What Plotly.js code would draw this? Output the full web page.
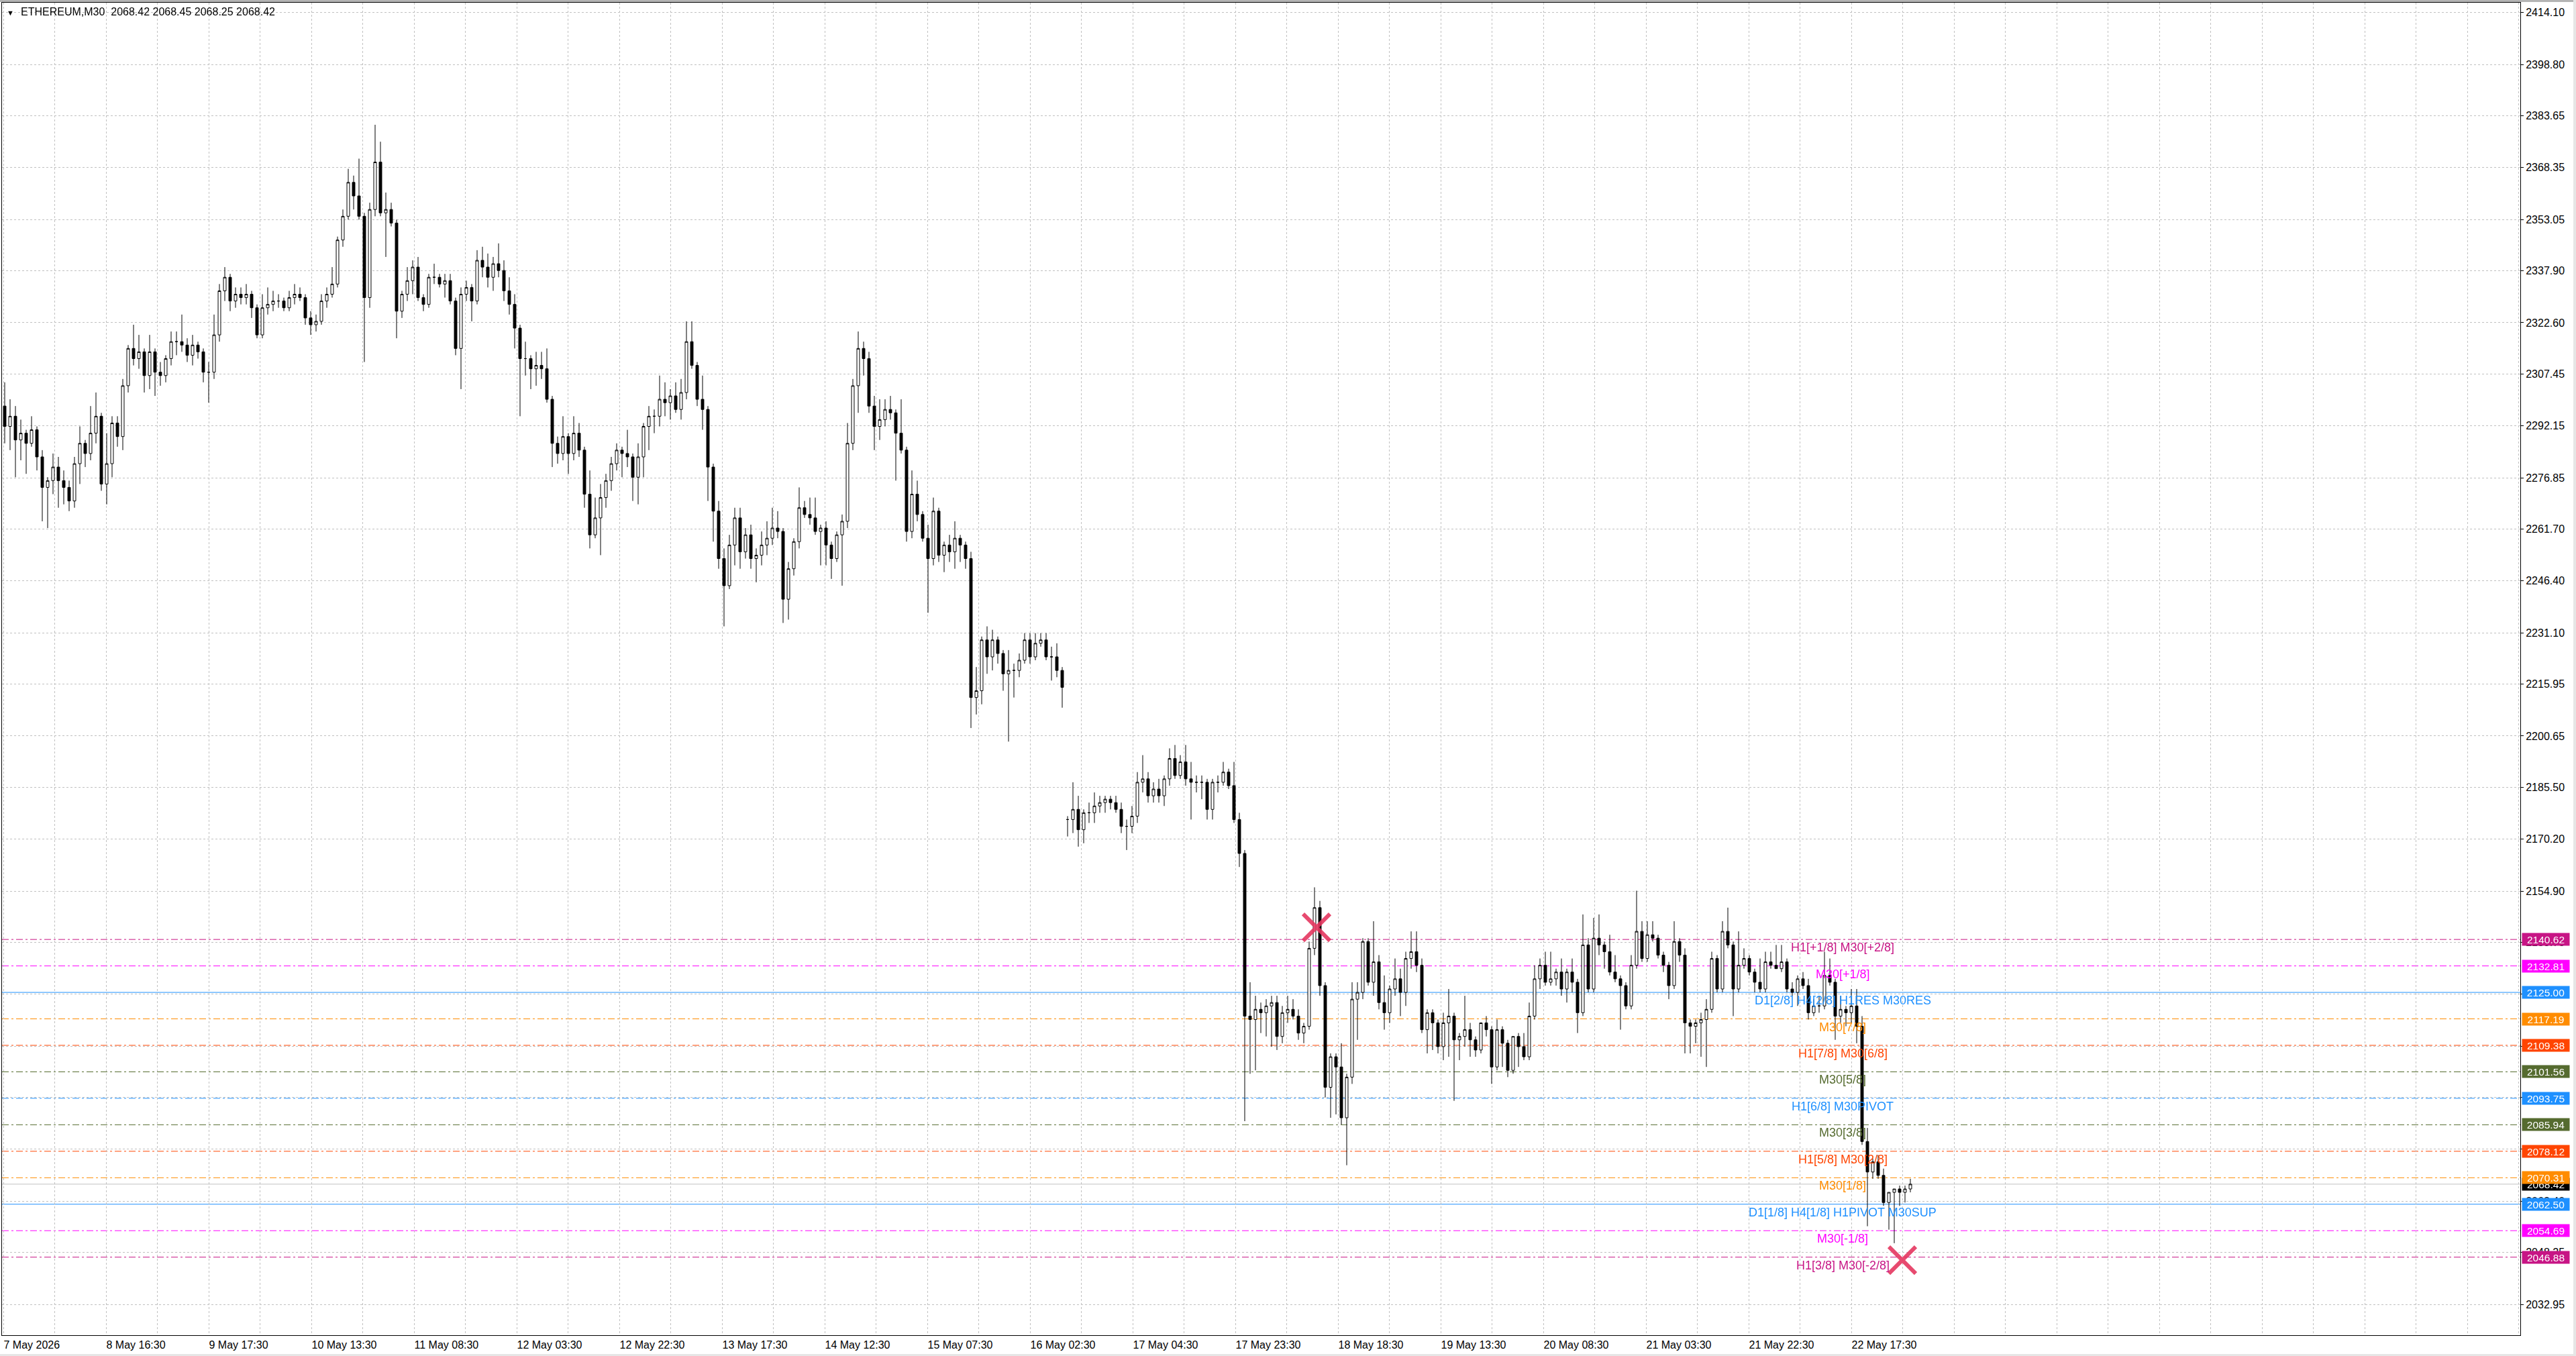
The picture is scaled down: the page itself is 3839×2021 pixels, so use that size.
<!DOCTYPE html>
<html>
<head>
<meta charset="utf-8">
<script src="https://cdn.plot.ly/plotly-3.0.1.min.js"></script>
<style>
html,body{margin:0;padding:0;background:#fff;overflow:hidden;}
#chart{width:3839px;height:2021px;}
.strip{position:fixed;background:#b4b4b4;z-index:5;}
</style>
</head>
<body>
<div id="chart"></div>
<div class="strip" style="left:0;top:0;width:3839px;height:3px;"></div>
<div class="strip" style="left:0;top:2018px;width:3839px;height:3px;background:#e6e6e6;"></div>
<div class="strip" style="left:3835px;top:0;width:4px;height:2021px;background:#e6e6e6;"></div>
<script>
// ETHEREUM, hourly aggregation of the M30 chart (open / high / low / close)
const OPEN = [
2298,2292,2295,2288,2290,2287,2291,2283,2274,2276,2280,2276,2274,2270,2281,2287,2284,2290,2295,2275,
2281,2293,2289,2304,2315,2312,2314,2307,2314,2308,2307,2312,2317,2317,2316,2313,2316,2314,2308,2308,
2319,2332,2336,2329,2331,2330,2331,2327,2319,2327,2328,2329,2329,2327,2330,2331,2330,2324,2322,2323,
2329,2331,2334,2347,2354,2364,2360,2354,2330,2356,2370,2355,2356,2352,2326,2331,2335,2339,2330,2328,
2336,2336,2334,2335,2329,2315,2331,2333,2329,2341,2339,2336,2340,2338,2332,2328,2321,2312,2312,2309,
2310,2309,2300,2287,2284,2289,2284,2290,2285,2272,2260,2265,2271,2276,2281,2285,2284,2283,2277,2283,
2292,2295,2295,2300,2299,2301,2297,2302,2317,2310,2300,2297,2280,2267,2253,2245,2257,2265,2255,2260,
2253,2254,2257,2259,2262,2261,2241,2250,2258,2268,2266,2265,2261,2262,2257,2253,2260,2264,2287,2304,
2315,2312,2298,2292,2294,2297,2296,2290,2285,2261,2272,2266,2259,2253,2267,2254,2257,2255,2259,2257,
2253,2212,2214,2229,2224,2229,2225,2219,2220,2220,2223,2229,2224,2228,2229,2224,2224,2220,2176,2176,
2179,2173,2178,2178,2180,2181,2182,2181,2179,2174,2174,2177,2187,2188,2183,2185,2183,2188,2194,2189,
2193,2188,2187,2187,2187,2179,2187,2187,2190,2186,2176,2166,2118,2117,2120,2119,2121,2122,2112,2119,
2120,2118,2113,2115,2138,2150,2127,2097,2106,2103,2088,2100,2123,2125,2140,2128,2134,2122,2119,2126,
2129,2125,2135,2137,2133,2114,2119,2116,2109,2116,2118,2111,2112,2114,2111,2108,2116,2114,2103,2114,
2110,2102,2112,2109,2106,2118,2129,2133,2128,2129,2131,2126,2131,2128,2119,2139,2126,2141,2139,2137,
2131,2129,2127,2121,2133,2143,2135,2142,2141,2136,2133,2127,2140,2136,2116,2115,2116,2117,2120,2135,
2126,2143,2139,2126,2133,2135,2131,2128,2126,2134,2133,2132,2134,2126,2125,2129,2127,2119,2121,2121,
2130,2128,2118,2120,2119,2121,2115,2081,2072,2075,2071,2063,2066,2067,2066,2067
];
const HIGH = [
2305,2300,2298,2294,2291,2295,2292,2285,2277,2284,2283,2279,2276,2283,2292,2288,2298,2302,2296,2290,
2295,2295,2306,2316,2322,2319,2315,2319,2315,2311,2313,2320,2320,2325,2318,2319,2317,2315,2311,2325,
2334,2339,2337,2333,2333,2334,2332,2328,2331,2333,2332,2331,2330,2332,2334,2333,2331,2326,2325,2331,
2333,2339,2348,2356,2368,2366,2371,2355,2358,2381,2376,2361,2358,2353,2332,2339,2341,2342,2331,2337,
2340,2337,2337,2337,2330,2333,2335,2334,2344,2345,2343,2342,2346,2341,2336,2331,2322,2317,2313,2314,
2314,2315,2301,2289,2295,2290,2295,2293,2286,2279,2271,2275,2278,2283,2287,2286,2291,2284,2287,2293,
2298,2297,2307,2305,2303,2305,2306,2323,2323,2311,2307,2298,2281,2270,2256,2260,2268,2268,2262,2263,
2256,2261,2264,2268,2267,2262,2252,2259,2274,2270,2271,2271,2263,2264,2258,2261,2266,2293,2306,2320,
2317,2314,2301,2300,2300,2301,2297,2300,2286,2279,2276,2267,2263,2271,2268,2258,2260,2264,2260,2258,
2255,2221,2230,2233,2232,2230,2226,2226,2222,2225,2231,2231,2231,2231,2231,2227,2228,2221,2177,2187,
2183,2179,2181,2184,2183,2183,2183,2183,2181,2176,2180,2190,2195,2190,2187,2188,2189,2197,2198,2195,
2198,2193,2189,2189,2188,2188,2189,2193,2191,2193,2178,2167,2128,2124,2122,2123,2124,2124,2121,2124,
2123,2120,2116,2140,2156,2152,2128,2107,2107,2110,2101,2128,2128,2141,2141,2146,2136,2130,2127,2135,
2132,2137,2143,2143,2135,2120,2120,2117,2119,2126,2119,2113,2124,2116,2112,2116,2118,2115,2117,2115,
2111,2112,2113,2113,2122,2133,2135,2137,2137,2132,2135,2132,2135,2129,2148,2141,2147,2148,2140,2142,
2136,2130,2128,2136,2155,2146,2146,2146,2142,2137,2134,2146,2141,2138,2117,2117,2119,2123,2137,2136,
2146,2150,2140,2143,2138,2136,2132,2135,2137,2137,2139,2139,2135,2128,2130,2131,2129,2123,2124,2137,
2135,2129,2124,2121,2126,2126,2118,2085,2076,2077,2073,2066,2067,2068,2068,2070
];
const LOW = [
2287,2285,2277,2282,2278,2286,2279,2264,2262,2272,2268,2269,2267,2268,2275,2280,2282,2287,2273,2269,
2277,2286,2285,2302,2310,2309,2302,2303,2301,2304,2305,2310,2313,2314,2311,2310,2312,2305,2299,2306,
2317,2329,2326,2327,2328,2328,2324,2318,2318,2325,2326,2327,2326,2326,2328,2329,2322,2319,2320,2322,
2327,2330,2333,2345,2353,2356,2353,2311,2327,2354,2354,2342,2351,2318,2324,2329,2331,2329,2326,2327,
2334,2333,2330,2328,2313,2303,2329,2323,2328,2336,2333,2332,2336,2329,2325,2315,2295,2307,2303,2304,
2306,2299,2280,2281,2282,2278,2282,2283,2268,2256,2259,2254,2268,2273,2279,2277,2280,2270,2269,2277,
2285,2290,2292,2295,2294,2296,2294,2300,2309,2298,2291,2270,2258,2250,2233,2244,2251,2250,2253,2250,
2246,2251,2254,2257,2259,2234,2235,2248,2256,2265,2263,2260,2251,2251,2247,2252,2245,2262,2285,2296,
2307,2296,2285,2288,2292,2294,2276,2284,2258,2259,2264,2258,2237,2251,2252,2249,2252,2250,2252,2250,
2203,2207,2210,2219,2220,2222,2214,2199,2212,2218,2222,2222,2223,2227,2223,2217,2218,2209,2171,2172,
2168,2169,2175,2175,2178,2178,2179,2178,2172,2167,2172,2175,2184,2181,2181,2181,2180,2186,2188,2188,
2186,2176,2184,2182,2176,2176,2184,2186,2185,2175,2162,2087,2101,2102,2113,2112,2109,2108,2110,2116,
2117,2111,2110,2114,2136,2124,2094,2088,2089,2086,2074,2098,2111,2123,2127,2124,2120,2114,2116,2124,
2118,2121,2132,2131,2113,2107,2108,2107,2105,2106,2093,2105,2109,2106,2106,2107,2112,2098,2102,2103,
2100,2101,2103,2105,2105,2117,2126,2127,2127,2127,2124,2122,2125,2113,2118,2125,2125,2136,2132,2130,
2128,2114,2120,2120,2132,2134,2134,2140,2135,2131,2123,2126,2134,2107,2107,2110,2106,2103,2119,2125,
2125,2138,2118,2125,2132,2130,2125,2125,2125,2132,2132,2131,2125,2124,2121,2126,2117,2118,2119,2120,
2127,2111,2116,2115,2116,2110,2080,2056,2070,2070,2062,2055,2051,2062,2063,2066
];
const CLOSE = [
2292,2295,2288,2290,2287,2291,2283,2274,2276,2280,2276,2274,2270,2281,2287,2284,2290,2295,2275,2281,
2293,2289,2304,2315,2312,2314,2307,2314,2308,2307,2312,2317,2317,2316,2313,2316,2314,2308,2308,2319,
2332,2336,2329,2331,2330,2331,2327,2319,2327,2328,2329,2329,2327,2330,2331,2330,2324,2322,2323,2329,
2331,2334,2347,2354,2364,2360,2354,2330,2356,2370,2355,2356,2352,2326,2331,2335,2339,2330,2328,2336,
2336,2334,2335,2329,2315,2331,2333,2329,2341,2339,2336,2340,2338,2332,2328,2321,2312,2312,2309,2310,
2309,2300,2287,2284,2289,2284,2290,2285,2272,2260,2265,2271,2276,2281,2285,2284,2283,2277,2283,2292,
2295,2295,2300,2299,2301,2297,2302,2317,2310,2300,2297,2280,2267,2253,2245,2257,2265,2255,2260,2253,
2254,2257,2259,2262,2261,2241,2250,2258,2268,2266,2265,2261,2262,2257,2253,2260,2264,2287,2304,2315,
2312,2298,2292,2294,2297,2296,2290,2285,2261,2272,2266,2259,2253,2267,2254,2257,2255,2259,2257,2253,
2212,2214,2229,2224,2229,2225,2219,2220,2220,2223,2229,2224,2228,2229,2224,2224,2220,2215,2176,2179,
2173,2178,2178,2180,2181,2182,2181,2179,2174,2174,2177,2187,2188,2183,2185,2183,2188,2194,2189,2193,
2188,2187,2187,2187,2179,2187,2187,2190,2186,2176,2166,2118,2117,2120,2119,2121,2122,2112,2119,2120,
2118,2113,2115,2138,2150,2127,2097,2106,2103,2088,2100,2123,2125,2140,2128,2134,2122,2119,2126,2129,
2125,2135,2137,2133,2114,2119,2116,2109,2116,2118,2111,2112,2114,2111,2108,2116,2114,2103,2114,2110,
2102,2112,2109,2106,2118,2129,2133,2128,2129,2131,2126,2131,2128,2119,2139,2126,2141,2139,2137,2131,
2129,2127,2121,2133,2143,2135,2142,2141,2136,2133,2127,2140,2136,2116,2115,2116,2117,2120,2135,2126,
2143,2139,2126,2133,2135,2131,2128,2126,2134,2133,2132,2134,2126,2125,2129,2127,2119,2121,2121,2130,
2128,2118,2120,2119,2121,2115,2081,2072,2075,2071,2063,2066,2067,2066,2067,2068.42
];

// x-axis time labels (every other vertical grid line)
const TIME_LABELS = ['7 May 2026','8 May 16:30','9 May 17:30','10 May 13:30','11 May 08:30','12 May 03:30',
  '12 May 22:30','13 May 17:30','14 May 12:30','15 May 07:30','16 May 02:30','17 May 04:30','17 May 23:30',
  '18 May 18:30','19 May 13:30','20 May 08:30','21 May 03:30','21 May 22:30','22 May 17:30'];

// y-axis price grid labels
const PRICE_TICKS = [2414.10,2398.80,2383.65,2368.35,2353.05,2337.90,2322.60,2307.45,2292.15,2276.85,
  2261.70,2246.40,2231.10,2215.95,2200.65,2185.50,2170.20,2154.90,2139.75,2124.45,2109.15,2094.00,
  2078.70,2063.40,2048.25,2032.95];

// Murrey-math style levels
const LEVEL_PRICES = [2140.62,2132.81,2125.00,2117.19,2109.38,2101.56,2093.75,2085.94,2078.12,2070.31,2062.50,2054.69,2046.88];
const LEVEL_NAMES = ['H1[+1/8] M30[+2/8]','M30[+1/8]','D1[2/8] H4[2/8] H1RES M30RES','M30[7/8]','H1[7/8] M30[6/8]',
  'M30[5/8]','H1[6/8] M30PIVOT','M30[3/8]','H1[5/8] M30[2/8]','M30[1/8]','D1[1/8] H4[1/8] H1PIVOT M30SUP','M30[-1/8]','H1[3/8] M30[-2/8]'];
const LEVEL_COLORS = ['#C71585','#FF00FF','#1E90FF','#FF8C00','#FF4500','#556B2F','#1E90FF','#556B2F','#FF4500','#FF8C00','#1E90FF','#FF00FF','#C71585'];
const LEVEL_SOLID = [false,false,true,false,false,false,false,false,false,false,true,false,false];

// signal crosses (M30 bar index, price)
const SIGNAL_BAR = [489.25, 707.5];
const SIGNAL_PRICE = [2144.2, 2046.0];

const SYMBOL = 'ETHEREUM,M30';
const LAST_BAR = [2068.42, 2068.45, 2068.25, 2068.42];
const CURRENT_PRICE = 2068.42;

// ---------- build ----------
const X = OPEN.map((_, j) => j * 2 + 0.5);   // hourly candle centred on its two M30 slots
const X_MAX = 937.75;
const GRID_STEP = 19.125;
const xTickVals = [], xTickText = [];
for (let k = 0; k * GRID_STEP <= X_MAX; k++) {
  xTickVals.push(k * GRID_STEP);
  xTickText.push(k % 2 === 0 && TIME_LABELS[k / 2] ? TIME_LABELS[k / 2] : '');
}

const FONT = 'Liberation Sans, Arial, sans-serif';

const traces = [
  {
    type: 'candlestick', x: X, open: OPEN, high: HIGH, low: LOW, close: CLOSE,
    increasing: {line: {color: '#000', width: 1}, fillcolor: '#ffffff'},
    decreasing: {line: {color: '#000', width: 1}, fillcolor: '#000000'},
    whiskerwidth: 0, hoverinfo: 'skip', showlegend: false
  },
  {
    type: 'scatter', mode: 'markers', x: SIGNAL_BAR, y: SIGNAL_PRICE,
    marker: {symbol: 'x-thin', size: 40, color: '#e5365f', line: {color: '#e5365f', width: 6}},
    opacity: 0.9, hoverinfo: 'skip', showlegend: false
  }
];

const shapes = LEVEL_PRICES.map((p, i) => ({
  type: 'line', xref: 'paper', x0: 0, x1: 1, yref: 'y', y0: p, y1: p, layer: 'between',
  line: {color: LEVEL_COLORS[i], width: 1, dash: LEVEL_SOLID[i] ? 'solid' : '10px,4px,3px,4px'}
}));
shapes.push({type: 'line', xref: 'paper', x0: 0, x1: 1, yref: 'y', y0: CURRENT_PRICE, y1: CURRENT_PRICE,
  layer: 'between', line: {color: '#c0c0c0', width: 1}});

const annotations = [];
// header
annotations.push({xref: 'paper', yref: 'paper', x: 0.0013, y: 1, xanchor: 'left', yanchor: 'top', yshift: -7,
  text: '▼', showarrow: false, font: {family: FONT, size: 11, color: '#000'}});
annotations.push({xref: 'paper', yref: 'paper', x: 0.0069, y: 1, xanchor: 'left', yanchor: 'top', yshift: -3,
  text: SYMBOL + '\u00a0\u00a0' + LAST_BAR.map(v => v.toFixed(2)).join(' '), showarrow: false,
  font: {family: FONT, size: 16, color: '#000'}});
// current price box (below coloured boxes)
annotations.push({xref: 'paper', x: 1, xanchor: 'left', xshift: 2, yref: 'y', y: CURRENT_PRICE, yanchor: 'middle',
  text: CURRENT_PRICE.toFixed(2), showarrow: false, bgcolor: '#000', width: 68, height: 16, borderpad: 1,
  font: {family: FONT, size: 15.5, color: '#fff'}});
LEVEL_PRICES.forEach((p, i) => {
  annotations.push({xref: 'paper', x: 0.7309, xanchor: 'center', yref: 'y', y: p, yanchor: 'top', yshift: 0,
    text: LEVEL_NAMES[i], showarrow: false, font: {family: FONT, size: 18, color: LEVEL_COLORS[i]}});
  annotations.push({xref: 'paper', x: 1, xanchor: 'left', xshift: 2, yref: 'y', y: p, yanchor: 'middle',
    text: p.toFixed(2), showarrow: false, bgcolor: LEVEL_COLORS[i], width: 68, height: 16, borderpad: 1,
    font: {family: FONT, size: 15.5, color: '#fff'}});
});

const layout = {
  width: 3839, height: 2021,
  margin: {l: 3, r: 83, t: 4, b: 31, pad: 0},
  paper_bgcolor: '#ffffff', plot_bgcolor: '#ffffff',
  showlegend: false,
  font: {family: FONT, size: 16, color: '#000'},
  xaxis: {
    type: 'linear', range: [-0.5, X_MAX], autorange: false,
    tickmode: 'array', tickvals: xTickVals, ticktext: xTickText,
    ticklabelposition: 'outside right',
    showgrid: true, gridcolor: '#c0c0c0', gridwidth: 1, griddash: '3px,3px',
    zeroline: false, showline: true, mirror: true, linecolor: '#000', linewidth: 1,
    ticks: '', tickfont: {family: FONT, size: 16, color: '#000'},
    rangeslider: {visible: false}, fixedrange: true, automargin: false
  },
  yaxis: {
    type: 'linear', range: [2023.85, 2417.02], autorange: false, side: 'right',
    tickmode: 'array', tickvals: PRICE_TICKS, ticktext: PRICE_TICKS.map(v => v.toFixed(2)),
    showgrid: true, gridcolor: '#c0c0c0', gridwidth: 1, griddash: '3px,3px',
    zeroline: false, showline: true, mirror: true, linecolor: '#000', linewidth: 1,
    ticks: 'outside', ticklen: 4, tickcolor: '#000', tickwidth: 1,
    tickfont: {family: FONT, size: 16, color: '#000'}, fixedrange: true, automargin: false
  },
  shapes: shapes,
  annotations: annotations
};

Plotly.newPlot('chart', traces, layout, {staticPlot: true, displayModeBar: false});
</script>
</body>
</html>
